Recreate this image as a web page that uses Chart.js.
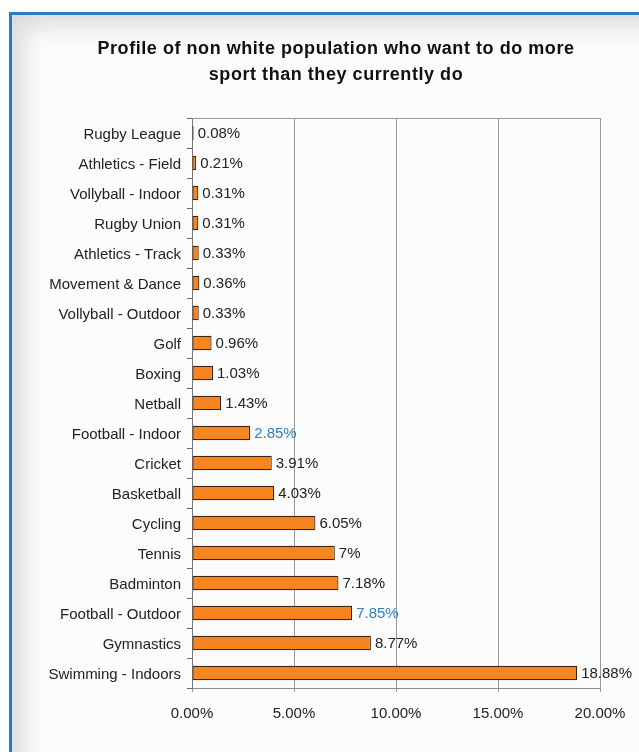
<!DOCTYPE html>
<html>
<head>
<meta charset="utf-8">
<script src="https://cdn.jsdelivr.net/npm/chart.js@4"></script>
<style>
  html, body { margin: 0; padding: 0; background: #fff; }
  body { width: 639px; height: 752px; position: relative; overflow: hidden; }
  #frame {
    position: absolute; left: 9px; top: 12px; width: 640px; height: 760px;
    border-left: 3px solid #2a7bcb; border-top: 3px solid #2a7bcb;
    background: #fcfcfc;
    box-shadow: inset 18px 18px 22px -6px #dcdcdc;
  }
  #wrap { position: absolute; left: 0; top: 0; width: 639px; height: 752px; }
  #title {
    position: absolute; left: 36px; top: 35px; width: 600px;
    text-align: center; font: bold 18px/26px 'Liberation Sans', Arial, sans-serif;
    letter-spacing: 0.55px; color: #111;
  }
</style>
</head>
<body>
<div id="frame"></div>
<div id="wrap"><canvas id="chart" width="639" height="752"></canvas></div>
<div id="title">Profile of non white population who want to do more<br>sport than they currently do</div>
<script>
const sports = ['Rugby League', 'Athletics - Field', 'Vollyball - Indoor', 'Rugby Union', 'Athletics - Track',
    'Movement & Dance', 'Vollyball - Outdoor', 'Golf', 'Boxing', 'Netball', 'Football - Indoor', 'Cricket',
    'Basketball', 'Cycling', 'Tennis', 'Badminton', 'Football - Outdoor', 'Gymnastics', 'Swimming - Indoors'];
const shares = [0.08, 0.21, 0.31, 0.31, 0.33, 0.36, 0.33, 0.96, 1.03, 1.43, 2.85, 3.91, 4.03, 6.05, 7, 7.18, 7.85, 8.77, 18.88];
const shareText = ['0.08%', '0.21%', '0.31%', '0.31%', '0.33%', '0.36%', '0.33%', '0.96%', '1.03%', '1.43%', '2.85%',
    '3.91%', '4.03%', '6.05%', '7%', '7.18%', '7.85%', '8.77%', '18.88%'];
const blueLabels = ['Football - Indoor', 'Football - Outdoor'];
const xTicks = [0, 5, 10, 15, 20];

const FONT = "'Liberation Sans', Arial, sans-serif";

// value labels next to each bar
const barLabels = {
    id: 'barLabels',
    afterDatasetsDraw(chart) {
        const ctx = chart.ctx;
        const meta = chart.getDatasetMeta(0);
        ctx.save();
        ctx.font = '15px ' + FONT;
        ctx.textBaseline = 'middle';
        ctx.textAlign = 'left';
        meta.data.forEach((bar, i) => {
            ctx.fillStyle = blueLabels.includes(sports[i]) ? '#2f7dc0' : '#222';
            ctx.fillText(shareText[i], bar.x + 4, bar.y + 1);
        });
        ctx.restore();
    }
};

// top edge of the plot box
const plotTop = {
    id: 'plotTop',
    beforeDatasetsDraw(chart) {
        const a = chart.chartArea;
        const ctx = chart.ctx;
        ctx.save();
        ctx.strokeStyle = '#999';
        ctx.lineWidth = 1;
        ctx.beginPath();
        ctx.moveTo(a.left, a.top + 0.5);
        ctx.lineTo(a.right, a.top + 0.5);
        ctx.stroke();
        ctx.restore();
    }
};

new Chart(document.getElementById('chart'), {
    type: 'bar',
    data: {
        labels: sports,
        datasets: [{
            data: shares,
            backgroundColor: '#f6841f',
            borderColor: '#3b2413',
            borderWidth: 1.2,
            borderSkipped: false,
            barPercentage: 0.48,
            categoryPercentage: 1
        }]
    },
    options: {
        indexAxis: 'y',
        responsive: false,
        animation: false,
        layout: { padding: { left: 0, right: 39, top: 118, bottom: 24 } },
        plugins: {
            legend: { display: false },
            tooltip: { enabled: false },
            title: { display: false }
        },
        scales: {
            x: {
                min: 0,
                max: 20,
                afterBuildTicks: (scale) => { scale.ticks = xTicks.map(v => ({ value: v })); },
                afterFit: (scale) => { scale.height = 40; },
                ticks: {
                    callback: (v) => v.toFixed(2) + '%',
                    color: '#222',
                    font: { family: FONT, size: 15 },
                    padding: 13,
                    maxRotation: 0
                },
                grid: { color: '#9a9a9a', lineWidth: 1, tickLength: 4 },
                border: { color: '#8a8a8a' }
            },
            y: {
                afterFit: (scale) => { scale.width = 192; },
                ticks: {
                    color: '#222',
                    font: { family: FONT, size: 15 },
                    padding: 6,
                    labelOffset: 1.5
                },
                grid: { drawOnChartArea: false, offset: true, tickLength: 5, color: '#666' },
                border: { color: '#777' }
            }
        }
    },
    plugins: [plotTop, barLabels]
});
</script>
</body>
</html>
